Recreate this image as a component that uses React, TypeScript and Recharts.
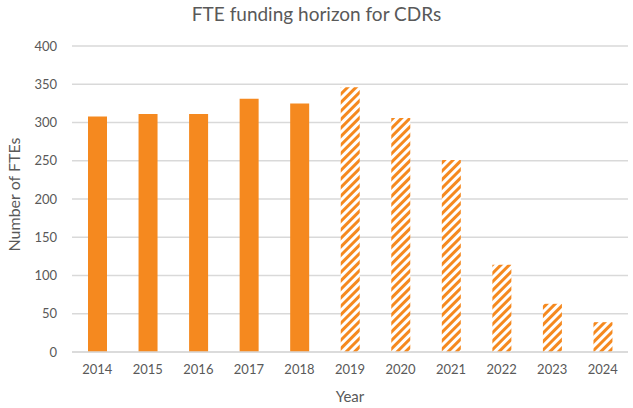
import { BarChart, Bar, XAxis, YAxis, CartesianGrid, Cell } from 'recharts'

const YEARS = ['2014', '2015', '2016', '2017', '2018', '2019', '2020', '2021', '2022', '2023', '2024']
const FTES = [308, 311, 311, 331, 325, 346, 306, 251, 114, 63, 39]
// from 2019 on the numbers are a forecast, drawn hatched
const FORECAST = [false, false, false, false, false, true, true, true, true, true, true]
const Y_TICKS = [0, 50, 100, 150, 200, 250, 300, 350, 400]

const ORANGE = '#F5891F'
const TEXT = '#595959'
const GRID = '#D9D9D9'
const FONT = 'Lato, "Open Sans", sans-serif'

const data = YEARS.map((year, i) => ({ year, ftes: FTES[i], forecast: FORECAST[i] }))

export default function App() {
  return (
    <div style={{ position: 'relative', width: 633, height: 408, fontFamily: FONT, background: '#fff' }}>
      <style>{'body{margin:0}'}</style>

      <div style={{ position: 'absolute', top: 2, left: 0, width: 633, textAlign: 'center', fontSize: 19, color: TEXT }}>
        FTE funding horizon for CDRs
      </div>

      {/* rotated axis title, placed by hand like the original */}
      <div
        style={{
          position: 'absolute', left: 14, top: 194, width: 0, height: 0,
          display: 'flex', alignItems: 'center', justifyContent: 'center',
        }}
      >
        <div style={{ transform: 'rotate(-90deg)', whiteSpace: 'nowrap', fontSize: 16, color: TEXT }}>
          Number of FTEs
        </div>
      </div>

      <BarChart width={633} height={408} data={data} margin={{ top: 46, right: 5, left: 0, bottom: 0 }}>
        <defs>
          <pattern id="hatch" width="6" height="6" patternUnits="userSpaceOnUse" patternTransform="rotate(45)">
            <rect width="6" height="6" fill="#fff" />
            <rect width="3" height="6" fill={ORANGE} />
          </pattern>
        </defs>
        <CartesianGrid vertical={false} stroke={GRID} strokeWidth={1.5} />
        <XAxis
          dataKey="year"
          height={56}
          tickLine={false}
          tickMargin={7}
          axisLine={{ stroke: GRID, strokeWidth: 1.5 }}
          tick={{ fill: TEXT, fontSize: 13 }}
          label={{ value: 'Year', position: 'insideBottom', offset: 6, fill: TEXT, fontSize: 15 }}
        />
        <YAxis
          width={72}
          domain={[0, 400]}
          ticks={Y_TICKS}
          axisLine={false}
          tickLine={false}
          tickMargin={9}
          tick={{ fill: TEXT, fontSize: 13 }}
        />
        <Bar dataKey="ftes" barSize={19} isAnimationActive={false}>
          {data.map((d) => (
            <Cell key={d.year} fill={d.forecast ? 'url(#hatch)' : ORANGE} />
          ))}
        </Bar>
      </BarChart>
    </div>
  )
}
